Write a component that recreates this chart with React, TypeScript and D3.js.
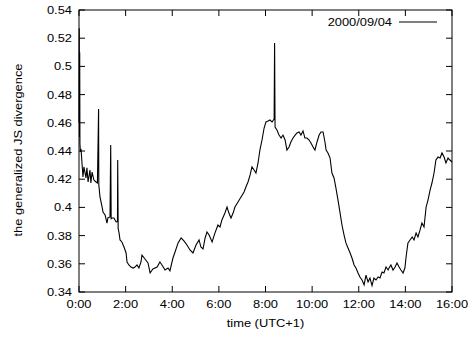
import React from "react";
import * as d3 from "d3";

const hours: number[] = [
  0.0, 0.01, 0.02, 0.03, 0.04, 0.06, 0.09, 0.17, 0.21, 0.3, 0.34, 0.39, 0.47, 0.51, 0.56, 0.64, 0.73, 0.79, 0.84, 0.85,
  0.9, 0.99, 1.03, 1.12, 1.2, 1.24, 1.33, 1.36, 1.38, 1.42, 1.5, 1.59, 1.65, 1.66, 1.68, 1.72, 1.76, 1.84, 1.93, 2.02,
  2.06, 2.14, 2.23, 2.32, 2.4, 2.49, 2.57, 2.66, 2.7, 2.83, 2.96, 3.05, 3.17, 3.35, 3.47, 3.56, 3.69, 3.82, 3.9, 4.03,
  4.12, 4.25, 4.38, 4.5, 4.63, 4.76, 4.89, 5.02, 5.15, 5.23, 5.32, 5.41, 5.49, 5.58, 5.71, 5.83, 5.96, 6.05, 6.13, 6.26,
  6.35, 6.43, 6.52, 6.61, 6.69, 6.82, 6.95, 7.08, 7.16, 7.25, 7.34, 7.42, 7.51, 7.59, 7.68, 7.76, 7.85, 7.94, 8.02, 8.11,
  8.19, 8.28, 8.37, 8.39, 8.41, 8.49, 8.58, 8.67, 8.75, 8.84, 8.92, 9.01, 9.09, 9.18, 9.27, 9.35, 9.44, 9.52, 9.61, 9.69,
  9.78, 9.87, 9.95, 10.04, 10.12, 10.21, 10.3, 10.38, 10.47, 10.55, 10.6, 10.68, 10.77, 10.85, 10.94, 11.02, 11.11, 11.2,
  11.28, 11.37, 11.45, 11.54, 11.63, 11.71, 11.8, 11.88, 11.97, 12.05, 12.14, 12.23, 12.31, 12.4, 12.48, 12.57, 12.65,
  12.74, 12.83, 12.91, 13.0, 13.08, 13.17, 13.26, 13.3, 13.38, 13.47, 13.56, 13.64, 13.73, 13.81, 13.9, 13.98, 14.03,
  14.11, 14.2, 14.29, 14.37, 14.46, 14.54, 14.63, 14.71, 14.8, 14.89, 14.97, 15.06, 15.14, 15.23, 15.31, 15.4, 15.49,
  15.57, 15.66, 15.74, 15.83, 15.91, 16.0,
];

const divergence: number[] = [
  0.46, 0.527, 0.45, 0.51, 0.445, 0.44, 0.4407, 0.4216, 0.4287, 0.4209, 0.428, 0.418, 0.4265, 0.4173, 0.4251, 0.4194, 0.418, 0.4173, 0.4698, 0.416,
  0.4074, 0.4003, 0.3967, 0.3946, 0.3889, 0.3925, 0.3932, 0.4443, 0.392, 0.3925, 0.3925, 0.3897, 0.39, 0.4336, 0.385, 0.3818, 0.3769, 0.3755, 0.3719, 0.3677,
  0.3613, 0.3592, 0.3577, 0.357, 0.3577, 0.3592, 0.357, 0.3613, 0.3662, 0.3634, 0.3606, 0.3535, 0.3563, 0.3577, 0.3613, 0.3592, 0.3556, 0.357, 0.355, 0.3641,
  0.3684, 0.3748, 0.3783, 0.3762, 0.3733, 0.3698, 0.3677, 0.3733, 0.3769, 0.3719, 0.3705, 0.3783, 0.3826, 0.3804, 0.3755, 0.3818, 0.3875, 0.3861, 0.3911, 0.396,
  0.4003, 0.396, 0.3925, 0.396, 0.4003, 0.4038, 0.4074, 0.4109, 0.4145, 0.418, 0.423, 0.4287, 0.4265, 0.4244, 0.4315, 0.4407, 0.4478, 0.4563, 0.4606, 0.4613,
  0.462, 0.4606, 0.4627, 0.5166, 0.457, 0.4549, 0.4513, 0.4492, 0.4513, 0.4478, 0.4407, 0.4428, 0.4464, 0.4492, 0.4513, 0.4528, 0.4535, 0.4513, 0.4542, 0.4492,
  0.4492, 0.4478, 0.4457, 0.4428, 0.4407, 0.4464, 0.4513, 0.4535, 0.4535, 0.4464, 0.4407, 0.4386, 0.435, 0.4244, 0.4209, 0.4138, 0.4052, 0.396,
  0.3875, 0.3804, 0.3748, 0.3712, 0.3677, 0.3641, 0.3592, 0.357, 0.3535, 0.3506, 0.3485, 0.345, 0.352, 0.3471, 0.3499, 0.3445, 0.3499,
  0.3485, 0.3506, 0.3499, 0.3542, 0.3535, 0.3577, 0.3556, 0.357, 0.3592, 0.3556, 0.3577, 0.3606, 0.3577, 0.3556, 0.3535, 0.357, 0.3648,
  0.3748, 0.3769, 0.379, 0.3769, 0.3818, 0.379, 0.384, 0.3889, 0.3861, 0.4003, 0.4052, 0.4123, 0.4173, 0.4244, 0.4336, 0.4357, 0.435,
  0.4386, 0.4357, 0.4315, 0.435, 0.4336, 0.4322,
];

const yTicks: number[] = [0.34, 0.36, 0.38, 0.4, 0.42, 0.44, 0.46, 0.48, 0.5, 0.52, 0.54];
const xTicks: number[] = [0, 2, 4, 6, 8, 10, 12, 14, 16];
const seriesLabel = "2000/09/04";
const xTitle = "time (UTC+1)";
const yTitle = "the generalized JS divergence";

const W = 468;
const H = 337;
const L = 79;
const R = 452;
const T = 10;
const B = 292;
const FONT = "'Liberation Sans', Arial, Helvetica, sans-serif";
const FS = 11.5;
const SX = 1.12;

function T2({ x, y, anchor, children, rotate }: { x: number; y: number; anchor: string; children: React.ReactNode; rotate?: number }) {
  const tr = `translate(${x},${y})${rotate ? ` rotate(${rotate})` : ""} scale(${SX},1)`;
  return (
    <text transform={tr} fontSize={FS} textAnchor={anchor} fill="#000">
      {children}
    </text>
  );
}

export default function App() {
  const x = d3.scaleLinear().domain([0, 16]).range([L, R]);
  const y = d3.scaleLinear().domain([0.34, 0.54]).range([B, T]);
  const pts: [number, number][] = hours.map((h, i) => [h, divergence[i]]);
  const line = d3
    .line<[number, number]>()
    .x((d) => x(d[0]))
    .y((d) => y(d[1]));
  const fmtY = (v: number) => String(+v.toFixed(2));
  const fmtX = (h: number) => `${h}:00`;
  const tl = 6;

  return (
    <svg
      width={W}
      height={H}
      style={{ position: "absolute", left: 0, top: 0, background: "#fff" }}
      fontFamily={FONT}
    >
      <rect x={0} y={0} width={W} height={H} fill="#fff" />
      {yTicks.map((v) => (
        <g key={"y" + v}>
          <line x1={L} x2={L + tl} y1={y(v)} y2={y(v)} stroke="#000" strokeWidth={1} />
          <line x1={R} x2={R - tl} y1={y(v)} y2={y(v)} stroke="#000" strokeWidth={1} />
          <T2 x={L - 7} y={y(v) + 4} anchor="end">
            {fmtY(v)}
          </T2>
        </g>
      ))}
      {xTicks.map((h) => (
        <g key={"x" + h}>
          <line x1={x(h)} x2={x(h)} y1={B} y2={B - tl} stroke="#000" strokeWidth={1} />
          <line x1={x(h)} x2={x(h)} y1={T} y2={T + tl} stroke="#000" strokeWidth={1} />
          <T2 x={x(h)} y={B + 16} anchor="middle">
            {fmtX(h)}
          </T2>
        </g>
      ))}
      <path d={line(pts) || ""} fill="none" stroke="#000" strokeWidth={1.1} strokeLinejoin="miter" />
      <rect x={L} y={T} width={R - L} height={B - T} fill="none" stroke="#000" strokeWidth={1} />
      <T2 x={392} y={26} anchor="end">
        {seriesLabel}
      </T2>
      <line x1={399} x2={437} y1={22} y2={22} stroke="#000" strokeWidth={1.1} />
      <T2 x={265.5} y={327} anchor="middle">
        {xTitle}
      </T2>
      <T2 x={22} y={150} anchor="middle" rotate={-90}>
        {yTitle}
      </T2>
    </svg>
  );
}
